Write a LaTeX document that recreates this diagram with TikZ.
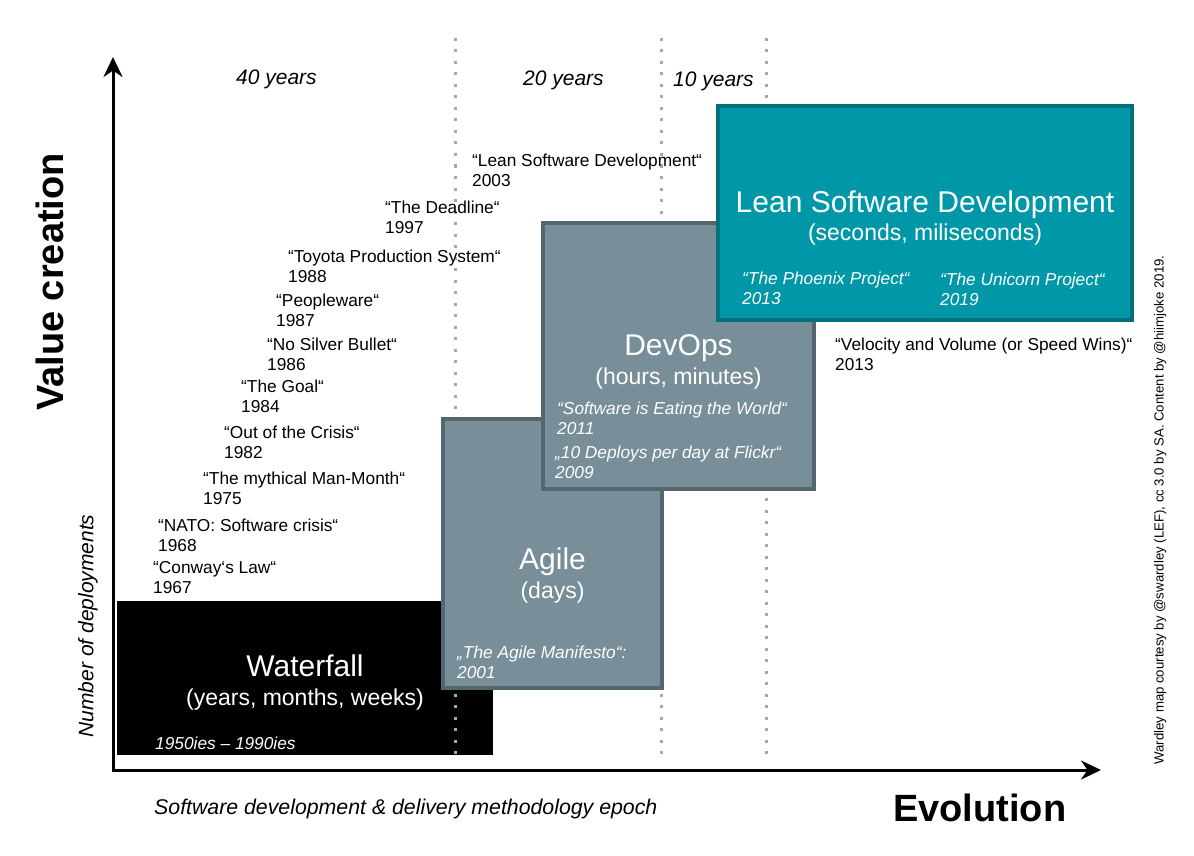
\documentclass[tikz,border=0pt]{standalone}
\usepackage{fontspec}
\setmainfont{Liberation Sans}
\usetikzlibrary{arrows.meta}

\definecolor{agilefill}{HTML}{788E99}
\definecolor{agileline}{HTML}{56666F}
\definecolor{leanfill}{HTML}{0098A8}
\definecolor{leanline}{HTML}{00707A}
\definecolor{dotgray}{HTML}{A8A8A8}

% font sizes
\newcommand\fslabel{\fontsize{17.3pt}{20.5pt}\selectfont}
\newcommand\fstitle{\fontsize{30pt}{34pt}\selectfont}
\newcommand\fssub{\fontsize{23pt}{27pt}\selectfont}
\newcommand\fsepoch{\fontsize{21pt}{25pt}\selectfont}
\newcommand\fsfoot{\fontsize{21.3pt}{25pt}\selectfont}
\newcommand\fsaxis{\fontsize{38pt}{44pt}\selectfont\bfseries}
\newcommand\fscredit{\fontsize{13.2pt}{16pt}\selectfont}

% two stacked lines, baseline of the first one
\newcommand\twolines[2]{\vtop{\baselineskip=20.5pt\hbox{#1}\hbox{#2}}}

% red zigzag spell-check underline under a word
\newsavebox\spellbox
\newcommand\zigpiece{\begin{picture}(2,1)\put(0,1){\line(1,-1){1}}\put(1,0){\line(1,1){1}}\end{picture}}
\newcommand\spell[1]{\sbox\spellbox{#1}%
  \rlap{\raisebox{-4.5pt}{\color{red}\setlength\unitlength{1.4pt}\linethickness{0.7pt}%
    \leaders\hbox{\zigpiece}\hskip\wd\spellbox}}\usebox\spellbox}

\tikzset{
  axis/.style={line width=3pt, -{Stealth[length=20pt,width=19pt]}},
  epochline/.style={dotgray, line width=3pt, dash pattern=on 3pt off 8.5pt},
  lbl/.style={anchor=base west, inner sep=0pt, font=\fslabel},
  boxlbl/.style={lbl, white, font=\fslabel\itshape},
  epochlbl/.style={anchor=base west, inner sep=0pt, font=\fsepoch\itshape},
  title/.style={anchor=base, inner sep=0pt, white, font=\fstitle},
  subtitle/.style={anchor=base, inner sep=0pt, white, font=\fssub},
  phase/.style={rectangle, inner sep=0pt},
  agilebox/.style={phase, fill=agilefill, draw=agileline, line width=4pt},
  leanbox/.style={phase, fill=leanfill, draw=leanline, line width=4pt},
}

\begin{document}
\begin{tikzpicture}[x=1pt, y=-1pt]
\useasboundingbox[fill=white] (0,0) rectangle (1194,856);

% axes
\coordinate (origin) at (113,770);
\coordinate (ybot) at (113,771.5);
\coordinate (ytip) at (113,57);
\coordinate (xtip) at (1101,770);
\draw[axis] (ybot) -- (ytip);
\draw[axis] (origin) -- (xtip);

% waterfall phase
\node[phase, fill=black, minimum width=376pt, minimum height=154pt] (waterfall) at (305,678) {};

% epoch separators
\coordinate (e1t) at (455,38);  \coordinate (e1b) at (455,762);
\coordinate (e2t) at (661,38);  \coordinate (e2b) at (661,762);
\coordinate (e3t) at (766,38);  \coordinate (e3b) at (766,762);
\draw[epochline] (e1t) -- (e1b);
\draw[epochline] (e2t) -- (e2b);
\draw[epochline] (e3t) -- (e3b);

% remaining phases
\node[agilebox, minimum width=219pt, minimum height=269pt] (agile) at (552.5,553.5) {};
\node[agilebox, minimum width=271pt, minimum height=266pt] (devops) at (678.5,356) {};
\node[leanbox, minimum width=414pt, minimum height=214pt] (lean) at (925,213) {};

% phase texts
\node[title] (wf-t) at (305,676) {Waterfall};
\node[subtitle] (wf-s) at (305,705) {(years, months, weeks)};
\node[boxlbl] (wf-y) at (155,749) {1950ies – 1990ies};

\node[title] (ag-t) at (552.5,569) {Agile};
\node[subtitle] (ag-s) at (552.5,598) {(days)};
\node[boxlbl] (ag-m) at (457,658) {\twolines{„The Agile Manifesto“:}{2001}};

\node[title] (do-t) at (678.5,355) {DevOps};
\node[subtitle] (do-s) at (678.5,384) {(hours, minutes)};
\node[boxlbl] (do-e) at (557,414) {\twolines{“Software \spell{is} Eating \spell{the} World“}{2011}};
\node[boxlbl] (do-f) at (555,458) {\twolines{„10 Deploys per day at Flickr“}{2009}};

\node[title] (ln-t) at (925,212) {Lean Software Development};
\node[subtitle] (ln-s) at (925,240) {(seconds, miliseconds)};
\node[boxlbl] (ln-p) at (742,284) {\twolines{“The Phoenix Project“}{2013}};
\node[boxlbl] (ln-u) at (940,285) {\twolines{“The Unicorn Project“}{2019}};

% epoch lengths
\node[epochlbl] (y40) at (236,85) {40 years};
\node[epochlbl] (y20) at (523,86) {20 years};
\node[epochlbl] (y10) at (673,87) {10 years};

% milestones
\node[lbl] (lsd)     at (472,166) {\twolines{“Lean Software Development“}{2003}};
\node[lbl] (dead)    at (385,213) {\twolines{“The Deadline“}{1997}};
\node[lbl] (toyota)  at (288,262) {\twolines{“Toyota Production System“}{1988}};
\node[lbl] (people)  at (276,306) {\twolines{“Peopleware“}{1987}};
\node[lbl] (silver)  at (267,350) {\twolines{“No Silver Bullet“}{1986}};
\node[lbl] (goal)    at (241,392) {\twolines{“The Goal“}{1984}};
\node[lbl] (crisis)  at (224,438) {\twolines{“Out of the Crisis“}{1982}};
\node[lbl] (mmm)     at (203,484) {\twolines{“The mythical Man-Month“}{1975}};
\node[lbl] (nato)    at (158,531) {\twolines{“NATO: Software crisis“}{1968}};
\node[lbl] (conway)  at (153,573) {\twolines{“Conway‘s Law“}{1967}};
\node[lbl] (velo)    at (835,350) {\twolines{“Velocity and Volume (\spell{or} Speed \spell{Wins})“}{2013}};

% axis titles
\node[inner sep=0pt, rotate=90, font=\fsaxis] (vc) at (50,282) {Value creation};
\node[inner sep=0pt, rotate=90, font=\fsepoch\itshape] (nd) at (88,626) {Number of deployments};
\node[anchor=base west, inner sep=0pt, font=\fsaxis] (evo) at (893,821) {Evolution};
\node[anchor=base west, inner sep=0pt, font=\fsfoot\itshape] (epoch) at (154,814) {Software development \& delivery methodology epoch};

% credits
\node[inner sep=0pt, rotate=90, font=\fscredit] (credit) at (1161,510) {Wardley map courtesy by @swardley (LEF), cc 3.0 by SA. Content by @\spell{hiimjoke} 2019.};
\end{tikzpicture}
\end{document}
